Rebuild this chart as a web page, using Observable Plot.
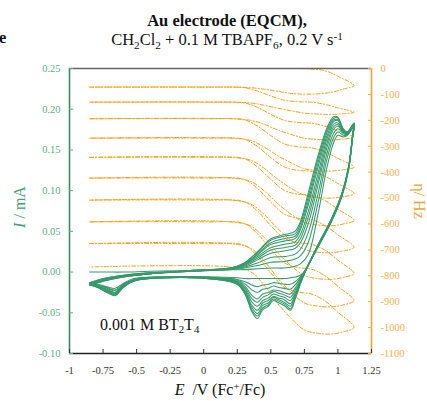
<!DOCTYPE html>
<html><head><meta charset="utf-8">
<script src="https://cdn.jsdelivr.net/npm/d3@7"></script>
<script src="https://cdn.jsdelivr.net/npm/@observablehq/plot@0.6"></script>
<style>
body{margin:0;background:#fff;}
#wrap{position:relative;width:427px;height:401px;overflow:hidden;font-family:"Liberation Serif",serif;}
#wrap svg{position:absolute;left:0;top:0;}
#wrap svg text{font-family:"Liberation Serif",serif !important;font-size:10.5px;}
.t{position:absolute;white-space:nowrap;line-height:1;color:#111;}
.sb{font-size:0.68em;position:relative;top:0.32em;}
.sp{font-size:0.68em;position:relative;top:-0.45em;}
</style></head>
<body><div id="wrap"></div>
<script>
// ---- axes / ticks ----
const xDomain = [-1, 1.25];
const yDomain = [-0.10, 0.25];
const hzDomain = [-1100, 0];
const xTicks = [-1, -0.75, -0.5, -0.25, 0, 0.25, 0.5, 0.75, 1, 1.25];
const iTicks = [-0.10, -0.05, 0.00, 0.05, 0.10, 0.15, 0.20, 0.25];
const hzTicks = [0, -100, -200, -300, -400, -500, -600, -700, -800, -900, -1000, -1100];

// ---- CV: potential grid (anodic then cathodic), V vs Fc+/Fc ----
const cvE = [-0.85, -0.72, -0.6, -0.4, -0.1, 0.2, 0.3, 0.4, 0.5, 0.6, 0.68, 0.72, 0.78, 0.85, 0.92, 0.97, 1.0, 1.04, 1.07, 1.12,
  1.11, 1.08, 1.03, 0.95, 0.85, 0.78, 0.73, 0.68, 0.645, 0.6, 0.56, 0.52, 0.48, 0.44, 0.4, 0.36, 0.31, 0.25, 0.1, -0.3, -0.52, -0.6, -0.66, -0.72, -0.79, -0.85];
// currents (mA) per cycle
const cv1 = [0.000, 0.000, 0.000, 0.001, 0.002, 0.003, 0.003, 0.004, 0.005, 0.005, 0.007, 0.010, 0.022, 0.070, 0.130, 0.160, 0.168, 0.166, 0.168, 0.178,
  0.166, 0.126, 0.093, 0.061, 0.030, 0.009, -0.003, -0.006, -0.007, -0.008, -0.008, -0.008, -0.008, -0.008, -0.008, -0.008, -0.008, -0.007, -0.006, -0.006, -0.008, -0.014, -0.020, -0.018, -0.015, -0.013];
const cv2 = [-0.013, -0.007, -0.004, -0.001, 0.001, 0.003, 0.005, 0.008, 0.012, 0.013, 0.016, 0.020, 0.037, 0.084, 0.140, 0.166, 0.172, 0.168, 0.169, 0.179,
  0.167, 0.127, 0.094, 0.062, 0.031, 0.009, -0.004, -0.012, -0.015, -0.015, -0.014, -0.013, -0.015, -0.016, -0.018, -0.016, -0.012, -0.009, -0.007, -0.006, -0.009, -0.015, -0.022, -0.019, -0.016, -0.014];
const cv3 = [-0.013, -0.007, -0.004, -0.001, 0.001, 0.004, 0.006, 0.011, 0.018, 0.019, 0.022, 0.028, 0.049, 0.095, 0.147, 0.171, 0.176, 0.170, 0.169, 0.180,
  0.167, 0.127, 0.094, 0.062, 0.031, 0.009, -0.005, -0.016, -0.021, -0.020, -0.019, -0.017, -0.020, -0.021, -0.025, -0.022, -0.015, -0.010, -0.007, -0.006, -0.009, -0.016, -0.023, -0.020, -0.016, -0.014];
const cv4 = [-0.014, -0.008, -0.005, -0.001, 0.001, 0.004, 0.007, 0.015, 0.023, 0.026, 0.029, 0.036, 0.060, 0.106, 0.154, 0.176, 0.179, 0.171, 0.170, 0.180,
  0.168, 0.128, 0.095, 0.063, 0.031, 0.009, -0.006, -0.020, -0.027, -0.025, -0.023, -0.022, -0.025, -0.027, -0.033, -0.029, -0.018, -0.011, -0.008, -0.006, -0.010, -0.016, -0.025, -0.021, -0.017, -0.014];
const cv5 = [-0.014, -0.008, -0.005, -0.002, 0.001, 0.004, 0.008, 0.017, 0.027, 0.030, 0.033, 0.041, 0.068, 0.113, 0.159, 0.179, 0.181, 0.172, 0.170, 0.181,
  0.168, 0.128, 0.095, 0.063, 0.032, 0.009, -0.007, -0.023, -0.031, -0.028, -0.026, -0.024, -0.028, -0.031, -0.037, -0.033, -0.020, -0.012, -0.008, -0.007, -0.010, -0.017, -0.025, -0.022, -0.017, -0.015];
const cv6 = [-0.015, -0.009, -0.005, -0.002, 0.001, 0.004, 0.009, 0.019, 0.030, 0.034, 0.037, 0.046, 0.075, 0.120, 0.164, 0.182, 0.183, 0.173, 0.171, 0.181,
  0.169, 0.129, 0.096, 0.064, 0.032, 0.009, -0.008, -0.026, -0.035, -0.031, -0.029, -0.027, -0.032, -0.035, -0.042, -0.037, -0.022, -0.013, -0.008, -0.007, -0.010, -0.017, -0.026, -0.023, -0.018, -0.015];
const cv7 = [-0.015, -0.009, -0.005, -0.002, 0.001, 0.005, 0.009, 0.021, 0.034, 0.038, 0.041, 0.052, 0.083, 0.128, 0.168, 0.185, 0.186, 0.174, 0.171, 0.182,
  0.169, 0.129, 0.096, 0.064, 0.032, 0.009, -0.009, -0.028, -0.039, -0.034, -0.032, -0.030, -0.035, -0.038, -0.047, -0.041, -0.024, -0.013, -0.008, -0.007, -0.010, -0.018, -0.027, -0.024, -0.018, -0.015];
const cv8 = [-0.015, -0.009, -0.006, -0.002, 0.002, 0.005, 0.010, 0.022, 0.036, 0.041, 0.044, 0.055, 0.088, 0.133, 0.172, 0.187, 0.187, 0.175, 0.171, 0.182,
  0.169, 0.129, 0.096, 0.064, 0.033, 0.009, -0.009, -0.030, -0.042, -0.037, -0.034, -0.031, -0.038, -0.041, -0.051, -0.044, -0.025, -0.014, -0.009, -0.007, -0.011, -0.018, -0.028, -0.024, -0.018, -0.015];
const cv9 = [-0.016, -0.010, -0.006, -0.002, 0.002, 0.005, 0.011, 0.024, 0.039, 0.044, 0.047, 0.059, 0.093, 0.138, 0.175, 0.189, 0.189, 0.175, 0.172, 0.183,
  0.170, 0.130, 0.097, 0.065, 0.033, 0.009, -0.010, -0.032, -0.045, -0.039, -0.036, -0.033, -0.040, -0.044, -0.054, -0.047, -0.027, -0.015, -0.009, -0.007, -0.011, -0.019, -0.028, -0.025, -0.019, -0.016];
const cv10 = [-0.016, -0.010, -0.006, -0.002, 0.002, 0.005, 0.011, 0.025, 0.041, 0.046, 0.050, 0.062, 0.098, 0.142, 0.178, 0.191, 0.190, 0.176, 0.172, 0.183,
  0.170, 0.130, 0.097, 0.065, 0.033, 0.009, -0.010, -0.034, -0.047, -0.041, -0.038, -0.035, -0.042, -0.046, -0.057, -0.049, -0.028, -0.015, -0.009, -0.007, -0.011, -0.019, -0.029, -0.025, -0.019, -0.016];
const cvCycles = [cv1, cv2, cv3, cv4, cv5, cv6, cv7, cv8, cv9, cv10];

// ---- EQCM frequency change (Hz): potential grid and cycles ----
const fE = [-0.85, 0.0, 0.3, 0.4, 0.5, 0.6, 0.7, 0.8, 0.9, 1.0, 1.12, 1.05, 0.95, 0.85, 0.75, 0.65, 0.55, 0.45, 0.35, 0.2, -0.85];
const fq1 = [0, 0, 0, 0, 0, 0, 0, -2, -8, -30, -66, -78, -92, -98, -99, -96, -88, -80, -74, -72, -72];
const fq2 = [-72, -72, -74, -87, -106, -122, -128, -130, -138, -152, -169, -174, -177, -176, -172, -163, -153, -142, -133, -130, -130];
const fq3 = [-130, -130, -133, -150, -177, -200, -208, -211, -222, -241, -265, -272, -276, -274, -269, -254, -237, -215, -200, -194, -194];
const fq4 = [-194, -194, -198, -222, -259, -291, -302, -306, -321, -347, -381, -390, -396, -394, -387, -364, -336, -303, -278, -269, -269];
const fq5 = [-269, -269, -273, -301, -344, -380, -393, -397, -415, -444, -483, -494, -500, -498, -489, -462, -427, -385, -354, -343, -343];
const fq6 = [-343, -343, -348, -380, -428, -470, -485, -489, -509, -543, -587, -599, -607, -604, -594, -562, -521, -472, -436, -423, -423];
const fq7 = [-423, -423, -428, -463, -516, -562, -578, -583, -605, -642, -690, -703, -711, -709, -698, -663, -617, -563, -523, -508, -508];
const fq8 = [-508, -508, -514, -550, -607, -655, -672, -678, -700, -740, -791, -805, -814, -811, -799, -761, -711, -652, -608, -592, -592];
const fq9 = [-592, -592, -598, -638, -698, -750, -768, -774, -799, -841, -896, -911, -920, -917, -905, -863, -808, -742, -694, -676, -676];
const fq10 = [-676, -676, -682, -724, -789, -844, -863, -870, -896, -941, -999, -1015, -1025, -1022, -1009, -964, -906, -836, -785, -766, -766];
const fqCycles = [fq1, fq2, fq3, fq4, fq5, fq6, fq7, fq8, fq9, fq10];

// ---- build tables ----
const cvRows = [];
cvCycles.forEach((arr, c) => arr.forEach((I, i) => cvRows.push({E: cvE[i], I, c})));
const fqRows = [];
fqCycles.forEach((arr, c) => arr.forEach((f, i) => fqRows.push({E: fE[i], f, c})));

// map Hz onto the current scale (secondary axis)
const k = (yDomain[1] - yDomain[0]) / (hzDomain[1] - hzDomain[0]);
const hz2y = f => yDomain[1] + (f - hzDomain[1]) * k;
const y2hz = y => Math.round((y - yDomain[1]) / k + hzDomain[1]);

const GREEN = "#36996b", GREEN_AX = "#3c8a64", GREEN_TXT = "#5fae89";
const ORANGE = "#f4a11a", ORANGE_AX = "#f0a23a", ORANGE_TXT = "#f5b14e";

const chart = Plot.plot({
  width: 427, height: 401,
  marginLeft: 69, marginRight: 56, marginTop: 68, marginBottom: 48,
  x: {domain: xDomain},
  y: {domain: yDomain},
  style: {fontFamily: "Liberation Serif", fontSize: "10.5px", background: "transparent"},
  marks: [
    Plot.line(fqRows, {x: "E", y: d => hz2y(d.f), z: "c", stroke: ORANGE, strokeWidth: 1, strokeDasharray: "4,2,1.2,2", curve: "catmull-rom"}),
    Plot.line(cvRows, {x: "E", y: "I", z: "c", stroke: GREEN, strokeWidth: 1.05, curve: "catmull-rom"}),
    Plot.ruleY([yDomain[1]], {stroke: "#666", strokeWidth: 1.6}),
    Plot.ruleX([xDomain[0]], {stroke: GREEN_AX, strokeWidth: 1.6}),
    Plot.ruleX([xDomain[1]], {stroke: ORANGE_AX, strokeWidth: 1.6}),
    Plot.ruleY([yDomain[0]], {stroke: "#222", strokeWidth: 1.6}),
    Plot.axisX(xTicks, {anchor: "bottom", tickSize: -4, tickPadding: 17, tickFormat: d => String(d), color: "#333", label: null}),
    Plot.axisY(iTicks, {anchor: "left", tickSize: -4, tickPadding: 13, tickFormat: d => d.toFixed(2), color: GREEN_TXT, label: null}),
    Plot.axisY(hzTicks.map(hz2y), {anchor: "right", tickSize: -4, tickPadding: 13, tickFormat: d => String(y2hz(d)), color: ORANGE_TXT, label: null})
  ]
});
const wrap = document.getElementById("wrap");
wrap.appendChild(chart);

function addText(html, css) {
  const d = document.createElement("div");
  d.className = "t";
  d.innerHTML = html;
  Object.assign(d.style, css);
  wrap.appendChild(d);
}
addText("e", {left: "-1px", top: "30px", fontSize: "16.5px", fontWeight: "bold"});
addText("Au electrode (EQCM),", {left: "227px", top: "13px", fontSize: "16.5px", fontWeight: "bold", transform: "translateX(-50%)"});
addText('CH<span class="sb">2</span>Cl<span class="sb">2</span> + 0.1 M TBAPF<span class="sb">6</span>, 0.2 V s<span class="sp">-1</span>',
  {left: "227px", top: "32px", fontSize: "16.5px", transform: "translateX(-50%)"});
addText('0.001 M BT<span class="sb">2</span>T<span class="sb">4</span>', {left: "100px", top: "317px", fontSize: "16px"});
addText('<i>E</i>&nbsp; /V (Fc<span class="sp">+</span>/Fc)', {left: "220px", top: "382px", fontSize: "16px", transform: "translateX(-50%)"});
addText('<i>I</i> / mA', {left: "20px", top: "207px", fontSize: "16px", color: "#45a077", transform: "translate(-50%,-50%) rotate(-90deg)"});
addText('η/ Hz', {left: "419px", top: "201px", fontSize: "16px", color: ORANGE_AX, transform: "translate(-50%,-50%) rotate(90deg)"});
</script></body></html>
